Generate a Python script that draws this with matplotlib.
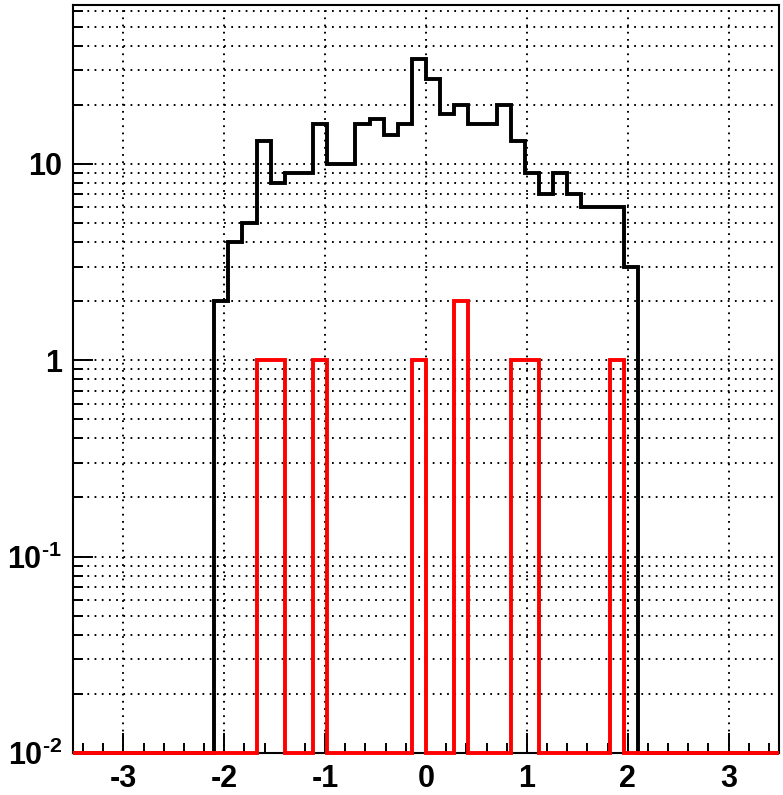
import numpy as np
import matplotlib
matplotlib.use("Agg")
import matplotlib.pyplot as plt
from matplotlib.ticker import MultipleLocator, LogLocator, FixedLocator, FixedFormatter, NullFormatter

plt.rcParams["font.family"] = "Liberation Sans"
plt.rcParams["font.weight"] = "bold"
plt.rcParams["axes.unicode_minus"] = False
plt.rcParams["mathtext.fontset"] = "custom"
plt.rcParams["mathtext.rm"] = "Liberation Sans:bold"
plt.rcParams["mathtext.it"] = "Liberation Sans:bold"
plt.rcParams["mathtext.bf"] = "Liberation Sans:bold"

# 50 bins from -3.5 to 3.5 (width 0.14)
x_lo, x_hi, n_bins = -3.5, 3.5, 50

black_counts = [0] * 10 + [2, 4, 5, 13, 8, 9, 9, 16, 10, 10,
                           16, 17, 14, 16, 34, 27, 18, 20, 16, 16,
                           20, 13, 9, 7, 9, 7, 6, 6, 6, 3] + [0] * 10
red_counts = [0] * 50
for idx, val in [(13, 1), (14, 1), (17, 1), (24, 1), (27, 2), (31, 1), (32, 1), (38, 1)]:
    red_counts[idx] = val

y_min, y_max = 0.01, 64.4
y_ticks = [0.01, 0.1, 1, 10]
y_labels = [r"$10^{\text{-}2}$", r"$10^{\text{-}1}$", "1", "10"]
x_ticks = [-3, -2, -1, 0, 1, 2, 3]

edges = np.linspace(x_lo, x_hi, n_bins + 1)
black = np.array(black_counts, dtype=float)
red = np.array(red_counts, dtype=float)
# ROOT draws empty bins at the bottom of the log frame
black = np.where(black > 0, black, y_min)
red = np.where(red > 0, red, y_min)

fig = plt.figure(figsize=(7.83, 7.95), dpi=100)
ax = fig.add_axes([73 / 783, 42 / 795, 706 / 783, 748 / 795])
ax.set_yscale("log")
ax.set_xlim(x_lo, x_hi)
ax.set_ylim(y_min, y_max)

ax.stairs(black, edges, baseline=None, color="black", lw=2.8, clip_on=False, zorder=3)
ax.stairs(red, edges, baseline=None, color="#ff0000", lw=2.8, clip_on=False, zorder=4)

ax.xaxis.set_major_locator(FixedLocator(x_ticks))
ax.xaxis.set_minor_locator(MultipleLocator(0.2))
ax.xaxis.set_major_formatter(FixedFormatter([str(v) for v in x_ticks]))
ax.yaxis.set_major_locator(FixedLocator(y_ticks))
ax.yaxis.set_major_formatter(FixedFormatter(y_labels))
ax.yaxis.set_minor_locator(LogLocator(base=10, subs=np.arange(2, 10)))
ax.yaxis.set_minor_formatter(NullFormatter())

ax.tick_params(which="both", direction="in", width=1.4, colors="black",
               labelsize=22, pad=8, top=False, right=False)
ax.tick_params(which="major", length=14.5)
ax.tick_params(which="minor", length=7.2)
for lab in ax.get_xticklabels() + ax.get_yticklabels():
    lab.set_fontweight("bold")

grid_kw = dict(color="black", lw=1.4, ls=(0, (0.9, 2.8)))
ax.grid(True, axis="x", which="major", **grid_kw)
ax.grid(True, axis="y", which="both", **grid_kw)
ax.set_axisbelow(True)

for sp in ax.spines.values():
    sp.set_linewidth(1.5)

fig.savefig("out.png", dpi=100)
